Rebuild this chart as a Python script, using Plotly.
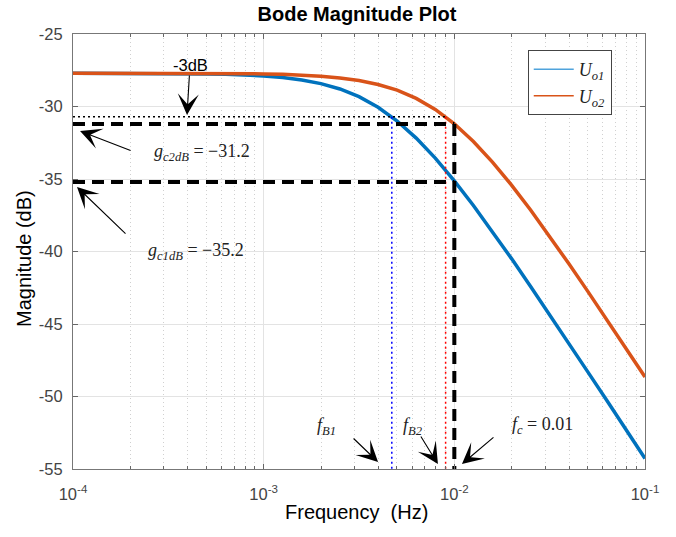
import plotly.graph_objects as go

# ---------------- data ----------------
log_f = [-4.0, -3.9, -3.8, -3.7, -3.6, -3.5, -3.4, -3.3, -3.2, -3.1, -3.0,
         -2.9, -2.8, -2.7, -2.6, -2.5, -2.4, -2.3, -2.2, -2.1, -2.0,
         -1.9, -1.8, -1.7, -1.6, -1.5, -1.4, -1.3, -1.2, -1.1, -1.0]
freq = [10 ** v for v in log_f]

mag_uo1 = [-27.70, -27.70, -27.70, -27.71, -27.71, -27.72, -27.73, -27.75, -27.78, -27.82, -27.89,
           -28.00, -28.17, -28.42, -28.79, -29.32, -30.05, -31.00, -32.18, -33.56, -35.13,
           -36.83, -38.62, -40.49, -42.41, -44.35, -46.32, -48.30, -50.28, -52.27, -54.27]
mag_uo2 = [-27.70, -27.70, -27.70, -27.70, -27.70, -27.71, -27.71, -27.71, -27.72, -27.73, -27.75,
           -27.78, -27.83, -27.91, -28.03, -28.21, -28.48, -28.87, -29.44, -30.20, -31.19,
           -32.41, -33.83, -35.42, -37.14, -38.95, -40.83, -42.75, -44.70, -46.67, -48.65]

f_min = 1e-4
f_max = 1e-1
mag_min = -55
mag_max = -25
f_B1 = 0.0047
f_B2 = 0.009
f_c = 0.01
g_3dB = -30.7
g_c2dB = -31.2
g_c1dB = -35.2

x_tick_vals = [1e-4, 1e-3, 1e-2, 1e-1]
x_tick_text = ["10<sup>-4</sup>", "10<sup>-3</sup>", "10<sup>-2</sup>", "10<sup>-1</sup>"]
y_tick_vals = [-25, -30, -35, -40, -45, -50, -55]
y_tick_text = ["-25", "-30", "-35", "-40", "-45", "-50", "-55"]

BLUE = "#0072BD"
ORANGE = "#D95319"
SANS = "Liberation Sans, Arial, sans-serif"
SERIF = "Liberation Serif, Times New Roman, serif"

minor_vals = []
for d in [1e-4, 1e-3, 1e-2]:
    for k in range(2, 10):
        minor_vals.append(d * k)

fig = go.Figure()

# main curves
fig.add_trace(go.Scatter(x=freq, y=mag_uo1, mode="lines", line=dict(color=BLUE, width=3.5),
                         showlegend=False, hoverinfo="skip"))
fig.add_trace(go.Scatter(x=freq, y=mag_uo2, mode="lines", line=dict(color=ORANGE, width=3.5),
                         showlegend=False, hoverinfo="skip"))

# -3dB dotted line
fig.add_trace(go.Scatter(x=[f_min, f_B2], y=[g_3dB, g_3dB], mode="lines",
                         line=dict(color="black", width=1.5, dash="2px,3px"),
                         showlegend=False, hoverinfo="skip"))
# bandwidth dotted verticals
fig.add_trace(go.Scatter(x=[f_B1, f_B1], y=[g_3dB, mag_min], mode="lines",
                         line=dict(color="#0000FF", width=1.5, dash="2px,3px"),
                         showlegend=False, hoverinfo="skip"))
fig.add_trace(go.Scatter(x=[f_B2, f_B2], y=[g_3dB, mag_min], mode="lines",
                         line=dict(color="#FF0000", width=1.5, dash="2px,3px"),
                         showlegend=False, hoverinfo="skip"))
# thick dashed lines
fig.add_trace(go.Scatter(x=[f_min, f_c], y=[g_c2dB, g_c2dB], mode="lines",
                         line=dict(color="black", width=4, dash="12px,7px"),
                         showlegend=False, hoverinfo="skip"))
fig.add_trace(go.Scatter(x=[f_min, f_c], y=[g_c1dB, g_c1dB], mode="lines",
                         line=dict(color="black", width=4, dash="12px,7px"),
                         showlegend=False, hoverinfo="skip"))
fig.add_trace(go.Scatter(x=[f_c, f_c], y=[g_c2dB, mag_min], mode="lines",
                         line=dict(color="black", width=4, dash="12px,7px"),
                         showlegend=False, hoverinfo="skip"))

# legend-only entries (thin lines like the reference legend)
fig.add_trace(go.Scatter(x=[None], y=[None], mode="lines", line=dict(color="#4FA3DC", width=1.5),
                         name="<i>U</i><sub><i>o1</i></sub>"))
fig.add_trace(go.Scatter(x=[None], y=[None], mode="lines", line=dict(color=ORANGE, width=1.5),
                         name="<i>U</i><sub><i>o2</i></sub>"))

arrow_common = dict(showarrow=True, arrowhead=3, arrowsize=3.2, arrowwidth=1.1,
                    arrowcolor="black", xref="x", yref="y")

annotations = [
    # -3dB
    dict(x=-3.402, y=-30.59, ax=3, ay=-50, text="-3dB",
         font=dict(family=SANS, size=16.5, color="black"), standoff=0, **arrow_common),
    # g arrows
    dict(x=-3.963, y=-31.69, ax=52, ay=20, text="", **arrow_common),
    dict(x=-3.979, y=-35.55, ax=50, ay=48, text="", **arrow_common),
    # f arrows
    dict(x=-2.40, y=-54.52, ax=-26, ay=-25, text="", **arrow_common),
    dict(x=-2.086, y=-54.66, ax=-18, ay=-29, text="", **arrow_common),
    dict(x=-1.960, y=-54.66, ax=33, ay=-28, text="", **arrow_common),
]

text_common = dict(showarrow=False, xref="x", yref="y",
                   font=dict(family=SERIF, size=18, color="#222"))
annotations += [
    dict(x=-3.323, y=-33.14, text="<i>g</i><sub><i>c2dB</i></sub> = −31.2", **text_common),
    dict(x=-3.355, y=-39.97, text="<i>g</i><sub><i>c1dB</i></sub> = −35.2", **text_common),
    dict(x=-2.668, y=-52.1, text="<i>f</i><sub><i>B1</i></sub>", **text_common),
    dict(x=-2.217, y=-52.1, text="<i>f</i><sub><i>B2</i></sub>", **text_common),
    dict(x=-1.540, y=-51.97, text="<i>f</i><sub><i>c</i></sub> = 0.01", **text_common),
]

# axis titles placed as paper annotations
annotations += [
    dict(text="Magnitude (dB)", xref="paper", yref="paper", x=-0.0857, y=0.485,
         textangle=-90, showarrow=False, xanchor="center", yanchor="middle",
         font=dict(family=SANS, size=20, color="black")),
    dict(text="Frequency  (Hz)", xref="paper", yref="paper", x=0.495, y=-0.099,
         showarrow=False, xanchor="center", yanchor="middle",
         font=dict(family=SANS, size=20, color="black")),
]

fig.update_layout(
    width=676, height=537,
    margin=dict(l=73, r=31, t=34, b=68),
    paper_bgcolor="white", plot_bgcolor="white",
    title=dict(text="<b>Bode Magnitude Plot</b>", x=357 / 676, xanchor="center",
               y=1 - 14 / 537, yanchor="middle", yref="container",
               font=dict(family=SANS, size=20, color="black")),
    legend=dict(x=0.795, y=0.963, xanchor="left", yanchor="top",
                bgcolor="white", bordercolor="#444", borderwidth=1,
                font=dict(family=SERIF, size=18, color="#222"),
                itemwidth=40, tracegroupgap=2),
    annotations=annotations,
    showlegend=True,
)

fig.update_xaxes(
    type="log", range=[-4, -1],
    tickmode="array", tickvals=x_tick_vals, ticktext=x_tick_text,
    tickfont=dict(family=SANS, size=16.5, color="#444"), ticklabelstandoff=10,
    ticks="inside", ticklen=5, tickcolor="#666",
    showline=True, linecolor="#777", linewidth=1, mirror="ticks",
    showgrid=True, gridcolor="#e3e3e3", gridwidth=1,
    minor=dict(tickmode="array", tickvals=minor_vals, ticks="inside", ticklen=3,
               tickcolor="#666", showgrid=True, gridcolor="#d0d0d0", griddash="1px,3px", gridwidth=1),
    zeroline=False,
)
fig.update_yaxes(
    range=[mag_min, mag_max],
    tickmode="array", tickvals=y_tick_vals, ticktext=y_tick_text,
    tickfont=dict(family=SANS, size=16.5, color="#444"),
    ticks="inside", ticklen=5, tickcolor="#666", ticklabelstandoff=6,
    showline=True, linecolor="#777", linewidth=1, mirror="ticks",
    showgrid=True, gridcolor="#e3e3e3", gridwidth=1,
    zeroline=False,
)

fig.write_html("out.html")
